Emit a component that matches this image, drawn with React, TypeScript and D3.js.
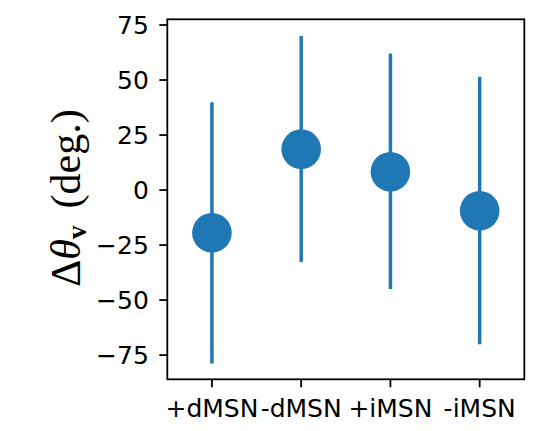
import React from "react";
import * as d3 from "d3";

const categories = ["+dMSN", "-dMSN", "+iMSN", "-iMSN"];
const means = [-19.4, 18.6, 8.3, -9.4];
const upper = [39.9, 70.0, 62.1, 51.5];
const lower = [-78.8, -32.7, -45.0, -70.1];
const yTicks = [-75, -50, -25, 0, 25, 50, 75];

const W = 546;
const H = 431;
const left = 167.3;
const right = 524.3;
const top = 19.3;
const bottom = 379.3;
const color = "#1f77b4";

export default function App() {
  const x = d3.scaleLinear().domain([-0.5, 3.5]).range([left, right]);
  const y = d3.scaleLinear().domain([-86.0, 77.6]).range([bottom, top]);
  const fmt = (v: number) => (v < 0 ? "\u2212" + Math.abs(v) : String(v));
  return (
    <svg
      width={W}
      height={H}
      style={{ position: "absolute", left: 0, top: 0, background: "#fff" }}
    >
      {categories.map((c, i) => (
        <line
          key={"e" + c}
          x1={x(i)}
          x2={x(i)}
          y1={y(lower[i])}
          y2={y(upper[i])}
          stroke={color}
          strokeWidth={3.5}
        />
      ))}
      {categories.map((c, i) => (
        <circle key={"m" + c} cx={x(i)} cy={y(means[i])} r={19.8} fill={color} />
      ))}
      <rect
        x={left}
        y={top}
        width={right - left}
        height={bottom - top}
        fill="none"
        stroke="#000"
        strokeWidth={1.8}
      />
      {yTicks.map((t) => (
        <g key={"y" + t}>
          <line x1={left - 8} x2={left} y1={y(t)} y2={y(t)} stroke="#000" strokeWidth={1.8} />
          <text
            x={left - 18.5}
            y={y(t)}
            dy="0.36em"
            textAnchor="end"
            fontFamily="DejaVu Sans"
            fontSize={25}
            fill="#000"
          >
            {fmt(t)}
          </text>
        </g>
      ))}
      {categories.map((c, i) => (
        <g key={"x" + c}>
          <line x1={x(i)} x2={x(i)} y1={bottom} y2={bottom + 8} stroke="#000" strokeWidth={1.8} />
          <text
            x={x(i)}
            y={417}
            textAnchor="middle"
            fontFamily="DejaVu Sans"
            fontSize={25}
            fill="#000"
          >
            {c}
          </text>
        </g>
      ))}
      <text
        transform={`translate(80,198) rotate(-90)`}
        textAnchor="middle"
        fontFamily="Liberation Serif"
        fontSize={42}
        fill="#000"
      >
        <tspan>Δ</tspan>
        <tspan fontStyle="italic">θ</tspan>
        <tspan fontWeight="bold" fontSize={27} dy={6}>v</tspan>
        <tspan dy={-6} dx={17}>(deg.)</tspan>
      </text>
    </svg>
  );
}
